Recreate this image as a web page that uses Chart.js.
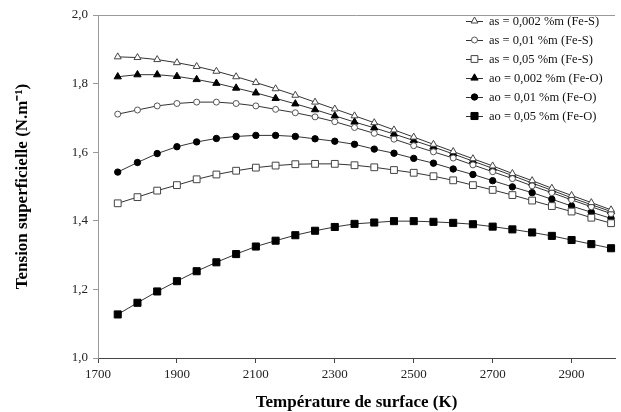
<!DOCTYPE html>
<html><head><meta charset="utf-8">
<script src="https://cdn.jsdelivr.net/npm/chart.js@4/dist/chart.umd.min.js"></script>
<style>html,body{margin:0;padding:0;background:#fff;overflow:hidden}#wrap{width:621px;height:412px;position:relative}</style>
</head><body><div id="wrap"><canvas id="c" width="621" height="412"></canvas></div>
<script>
const temperatures = [1750,1800,1850,1900,1950,2000,2050,2100,2150,2200,2250,2300,2350,2400,2450,2500,2550,2600,2650,2700,2750,2800,2850,2900,2950,3000];
const as0002 = [1.878,1.876,1.870,1.861,1.850,1.836,1.820,1.803,1.785,1.766,1.746,1.726,1.706,1.686,1.665,1.644,1.623,1.602,1.581,1.560,1.538,1.517,1.495,1.474,1.453,1.432];
const as001 = [1.711,1.723,1.735,1.742,1.746,1.746,1.742,1.735,1.725,1.715,1.703,1.689,1.672,1.655,1.638,1.619,1.601,1.583,1.563,1.543,1.523,1.502,1.482,1.461,1.441,1.421];
const as005 = [1.451,1.469,1.488,1.504,1.521,1.535,1.546,1.555,1.561,1.565,1.566,1.566,1.562,1.556,1.548,1.540,1.530,1.518,1.504,1.490,1.475,1.459,1.443,1.427,1.409,1.393];
const ao0002 = [1.820,1.826,1.826,1.821,1.812,1.801,1.787,1.773,1.757,1.741,1.724,1.706,1.688,1.671,1.653,1.634,1.615,1.595,1.574,1.553,1.532,1.510,1.489,1.467,1.447,1.427];
const ao001 = [1.542,1.570,1.596,1.616,1.630,1.640,1.646,1.649,1.649,1.646,1.639,1.632,1.623,1.609,1.597,1.582,1.568,1.551,1.535,1.517,1.499,1.482,1.463,1.443,1.425,1.407];
const ao005 = [1.127,1.161,1.194,1.224,1.253,1.279,1.303,1.325,1.342,1.358,1.371,1.382,1.391,1.395,1.399,1.399,1.397,1.394,1.390,1.383,1.375,1.366,1.356,1.344,1.332,1.320];
const seriesLabels = ['as = 0,002 %m (Fe-S)','as = 0,01 %m (Fe-S)','as = 0,05 %m (Fe-S)','ao = 0,002 %m (Fe-O)','ao = 0,01 %m (Fe-O)','ao = 0,05 %m (Fe-O)'];
const xTickValues = [1700,1900,2100,2300,2500,2700,2900];
const yTickValues = [1.0,1.2,1.4,1.6,1.8,2.0];
const xTitle = 'Température de surface (K)';
const yTitle = 'Tension superficielle (N.m\u207B\u00B9)';

const SERIF = "'Liberation Serif','Times New Roman',serif";
const LINE = '#333';
const styles = [
  {pointStyle:'triangle', radius:4.0, fill:'#fff', stroke:'#444'},
  {pointStyle:'circle', radius:3.0, fill:'#fff', stroke:'#555'},
  {pointStyle:'rect', radius:4.8, fill:'#fff', stroke:'#444'},
  {pointStyle:'triangle', radius:4.2, fill:'#000', stroke:'#000'},
  {pointStyle:'circle', radius:3.2, fill:'#000', stroke:'#000'},
  {pointStyle:'rect', radius:5.0, fill:'#000', stroke:'#000'}
];
const seriesValues = [as0002, as001, as005, ao0002, ao001, ao005];

const datasets = seriesValues.map((vals, i) => ({
  label: seriesLabels[i],
  data: temperatures.map((t, k) => ({x: t, y: vals[k]})),
  borderColor: LINE,
  borderWidth: 1,
  tension: 0,
  pointStyle: styles[i].pointStyle,
  pointRadius: styles[i].radius,
  pointBackgroundColor: styles[i].fill,
  pointBorderColor: styles[i].stroke,
  pointBorderWidth: 1,
  clip: false
}));

const frameAndLegend = {
  id: 'frameAndLegend',
  afterDraw(chart) {
    const ctx = chart.ctx, a = chart.chartArea;
    ctx.save();
    ctx.strokeStyle = '#999';
    ctx.lineWidth = 1;
    ctx.beginPath();
    ctx.moveTo(a.left, a.top + 0.5);
    ctx.lineTo(a.right, a.top + 0.5);
    ctx.stroke();
    const x0 = 466, x1 = 483, xm = 474.5, xt = 489;
    const y0 = 21, dy = 19;
    chart.data.datasets.forEach((ds, i) => {
      const y = y0 + i * dy;
      ctx.strokeStyle = LINE;
      ctx.lineWidth = 1;
      ctx.beginPath();
      ctx.moveTo(x0, y + 0.5);
      ctx.lineTo(x1, y + 0.5);
      ctx.stroke();
      ctx.fillStyle = ds.pointBackgroundColor;
      ctx.strokeStyle = ds.pointBorderColor;
      Chart.helpers.drawPoint(ctx, {
        pointStyle: ds.pointStyle, radius: ds.pointRadius, borderWidth: 1, rotation: 0
      }, xm, y);
      ctx.font = '12.5px ' + SERIF;
      ctx.textBaseline = 'middle';
      ctx.textAlign = 'left';
      ctx.fillStyle = '#111';
      ctx.fillText(ds.label, xt, y + 1);
    });
    ctx.restore();
  }
};

new Chart(document.getElementById('c'), {
  type: 'line',
  data: { datasets },
  options: {
    responsive: false,
    animation: false,
    devicePixelRatio: 1,
    layout: { padding: { top: 15, right: 0, left: 0, bottom: 0 } },
    plugins: { legend: { display: false }, tooltip: { enabled: false } },
    scales: {
      x: {
        type: 'linear', min: 1700, max: 3010,
        afterBuildTicks: s => { s.ticks = xTickValues.map(v => ({value: v})); },
        afterFit: s => { s.height = 54; },
        ticks: { font: { family: SERIF, size: 13 }, color: '#222', padding: 4, maxRotation: 0, autoSkip: false,
          callback: v => String(v) },
        grid: { drawOnChartArea: false, drawTicks: true, tickLength: 5, color: '#444' },
        border: { display: true, color: '#444', width: 1 },
        title: { display: true, text: xTitle, color: '#000', font: { family: SERIF, size: 17, weight: 'bold', lineHeight: 1.1 }, padding: { top: 0, bottom: 0 } }
      },
      y: {
        type: 'linear', min: 1.0, max: 2.0,
        afterBuildTicks: s => { s.ticks = yTickValues.map(v => ({value: v})); },
        afterFit: s => { s.width = 98; },
        ticks: { font: { family: SERIF, size: 13 }, color: '#222', padding: 5,
          callback: v => Number(v).toFixed(1).replace('.', ',') },
        grid: { drawOnChartArea: false, drawTicks: true, tickLength: 5, color: '#999' },
        border: { display: true, color: '#999', width: 1 },
        title: { display: true, text: yTitle, color: '#000', font: { family: SERIF, size: 17, weight: 'bold', lineHeight: 1.2 }, padding: { top: 12, bottom: 0 } }
      }
    }
  },
  plugins: [frameAndLegend]
});
</script></body></html>
